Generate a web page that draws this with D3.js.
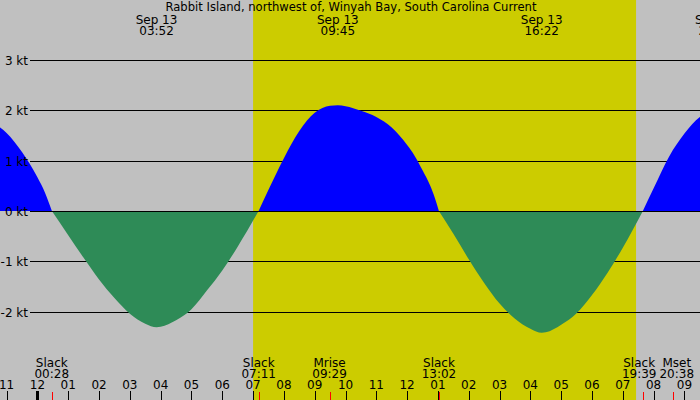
<!DOCTYPE html>
<html>
<head>
<meta charset="utf-8">
<script src="https://cdn.jsdelivr.net/npm/d3@7"></script>
<style>
  html, body { margin: 0; padding: 0; background: #c0c0c0; }
  svg { display: block; }
  text { font-family: "DejaVu Sans", sans-serif; font-size: 12px; fill: #000; }
</style>
</head>
<body>
<svg id="chart" width="700" height="400"></svg>
<script>
// ---- data (hours relative to Sep 13 00:00, speed in knots) ----
const titleText = "Rabbit Island, northwest of, Winyah Bay, South Carolina Current";
const times = [-1.5, -1.21, -1.0, -0.5, 0.0, 0.25, 0.47,
  1.0, 1.5, 2.0, 2.5, 3.0, 3.5, 3.87, 4.0, 4.5, 5.0, 5.5, 6.0, 6.5, 7.18,
  7.5, 8.0, 8.5, 9.0, 9.5, 9.75, 10.0, 10.5, 11.0, 11.5, 12.0, 12.25, 12.5, 12.75, 12.9, 13.03,
  13.5, 14.0, 14.5, 15.0, 15.5, 16.0, 16.37, 16.5, 17.0, 17.5, 18.0, 18.5, 19.0, 19.65,
  20.0, 20.5, 21.0, 21.5, 21.8];
const speeds = [1.76, 1.66, 1.55, 1.17, 0.67, 0.36, 0,
  -0.48, -0.93, -1.36, -1.73, -2.04, -2.24, -2.31, -2.30, -2.17, -1.95, -1.58, -1.18, -0.71, 0,
  0.42, 1.05, 1.59, 1.95, 2.09, 2.10, 2.08, 1.99, 1.87, 1.66, 1.31, 1.09, 0.81, 0.50, 0.26, 0,
  -0.45, -0.96, -1.43, -1.84, -2.14, -2.34, -2.42, -2.41, -2.26, -2.03, -1.67, -1.23, -0.73, 0,
  0.45, 1.08, 1.54, 1.87, 1.98];

const yTicks = [-2, -1, 0, 1, 2, 3];
const yTickLabels = ["-2 kt", "-1 kt", "0 kt", "1 kt", "2 kt", "3 kt"];

const hourTicks = [-1, 0, 1, 2, 3, 4, 5, 6, 7, 8, 9, 10, 11, 12, 13, 14, 15, 16, 17, 18, 19, 20, 21];
const hourLabels = ["11", "12", "01", "02", "03", "04", "05", "06", "07", "08", "09", "10", "11",
  "12", "01", "02", "03", "04", "05", "06", "07", "08", "09"];

const sunrise = 7.0, sunset = 19.43;

const peakTimes = [3.867, 9.75, 16.367, 22.02];
const peakDates = ["Sep 13", "Sep 13", "Sep 13", "Sep 13"];
const peakLabels = ["03:52", "09:45", "16:22", "22:01"];

const eventTimes = [0.467, 7.183, 9.483, 13.033, 19.65, 20.633];
const eventNames = ["Slack", "Slack", "Mrise", "Slack", "Slack", "Mset"];
const eventLabels = ["00:28", "07:11", "09:29", "13:02", "19:39", "20:38"];

// ---- drawing ----
const W = 700, H = 400;
const svg = d3.select("#chart");
const x = d3.scaleLinear().domain([-1.214, 21.505]).range([0, W]);
const y = d3.scaleLinear().domain([0, 3]).range([211, 60]);
const colors = { bg: "#c0c0c0", day: "#cccc00", flood: "#0000ff", ebb: "#2e8b57" };

svg.append("rect").attr("width", W).attr("height", H).attr("fill", colors.bg);
svg.append("rect")
  .attr("x", x(sunrise)).attr("y", 0)
  .attr("width", x(sunset) - x(sunrise)).attr("height", H)
  .attr("fill", colors.day);

// grid lines (behind fills)
svg.append("g").selectAll("line").data(yTicks.filter(d => d !== 0)).join("line")
  .attr("x1", 30).attr("x2", W)
  .attr("y1", d => Math.round(y(d)) + 0.5).attr("y2", d => Math.round(y(d)) + 0.5)
  .attr("stroke", "#000").attr("stroke-width", 1).attr("shape-rendering", "crispEdges");

// split the series into flood / ebb runs between slack points
const pts = times.map((t, i) => ({ t, v: speeds[i] }));
const runs = [];
let cur = [];
pts.forEach(p => {
  cur.push(p);
  if (p.v === 0 && cur.length > 1) { runs.push(cur); cur = [p]; }
});
if (cur.length > 1) runs.push(cur);

const area = d3.area().curve(d3.curveMonotoneX)
  .x(d => x(d.t)).y0(y(0)).y1(d => y(d.v));

svg.append("g").selectAll("path").data(runs).join("path")
  .attr("d", area)
  .attr("fill", r => d3.sum(r, d => d.v) >= 0 ? colors.flood : colors.ebb);

// zero line on top
svg.append("line")
  .attr("x1", 30).attr("x2", W)
  .attr("y1", Math.round(y(0)) + 0.5).attr("y2", Math.round(y(0)) + 0.5)
  .attr("stroke", "#000").attr("stroke-width", 1).attr("shape-rendering", "crispEdges");

// y labels
svg.append("g").selectAll("text").data(yTicks).join("text")
  .attr("x", 28).attr("y", d => Math.round(y(d)) + 4.5)
  .attr("text-anchor", "end")
  .text((d, i) => yTickLabels[i]);

// title
svg.append("text").attr("x", 351).attr("y", 11).attr("text-anchor", "middle")
  .attr("textLength", 371).attr("lengthAdjust", "spacingAndGlyphs")
  .text(titleText);

// peak labels at top
const pk = svg.append("g").selectAll("g").data(peakTimes).join("g");
pk.append("text").attr("x", d => x(d)).attr("y", 23.5).attr("text-anchor", "middle")
  .text((d, i) => peakDates[i]);
pk.append("text").attr("x", d => x(d)).attr("y", 35).attr("text-anchor", "middle")
  .text((d, i) => peakLabels[i]);

// event labels at bottom, pushed apart when they would touch
const ev = svg.append("g").selectAll("g").data(eventTimes).join("g");
const evName = ev.append("text").attr("y", 366.5).attr("text-anchor", "middle")
  .text((d, i) => eventNames[i]);
const evTime = ev.append("text").attr("y", 378).attr("text-anchor", "middle")
  .text((d, i) => eventLabels[i]);
const centers = eventTimes.map(t => x(t));
const widths = evName.nodes().map((n, i) => Math.max(n.getComputedTextLength(), evTime.nodes()[i].getComputedTextLength()));
const gap = 3;
for (let i = 1; i < centers.length; i++) {
  const need = (widths[i - 1] + widths[i]) / 2 + gap;
  const have = centers[i] - centers[i - 1];
  if (have < need) {
    const s = (need - have) / 2;
    centers[i - 1] -= s;
    centers[i] += s;
  }
}
evName.attr("x", (d, i) => centers[i]);
evTime.attr("x", (d, i) => centers[i]);

// hour axis
svg.append("g").selectAll("text").data(hourTicks).join("text")
  .attr("x", d => x(d)).attr("y", 389).attr("text-anchor", "middle")
  .text((d, i) => hourLabels[i]);
svg.append("g").selectAll("line").data(hourTicks).join("line")
  .attr("x1", d => Math.round(x(d)) + 0.5).attr("x2", d => Math.round(x(d)) + 0.5)
  .attr("y1", 391).attr("y2", H)
  .attr("stroke", "#000").attr("stroke-width", d => d === 0 ? 3 : 1)
  .attr("shape-rendering", "crispEdges");
svg.append("g").selectAll("line").data(eventTimes).join("line")
  .attr("x1", d => Math.round(x(d)) + 0.5).attr("x2", d => Math.round(x(d)) + 0.5)
  .attr("y1", 392).attr("y2", H)
  .attr("stroke", "#ff0000").attr("stroke-width", 1)
  .attr("shape-rendering", "crispEdges");
</script>
</body>
</html>
